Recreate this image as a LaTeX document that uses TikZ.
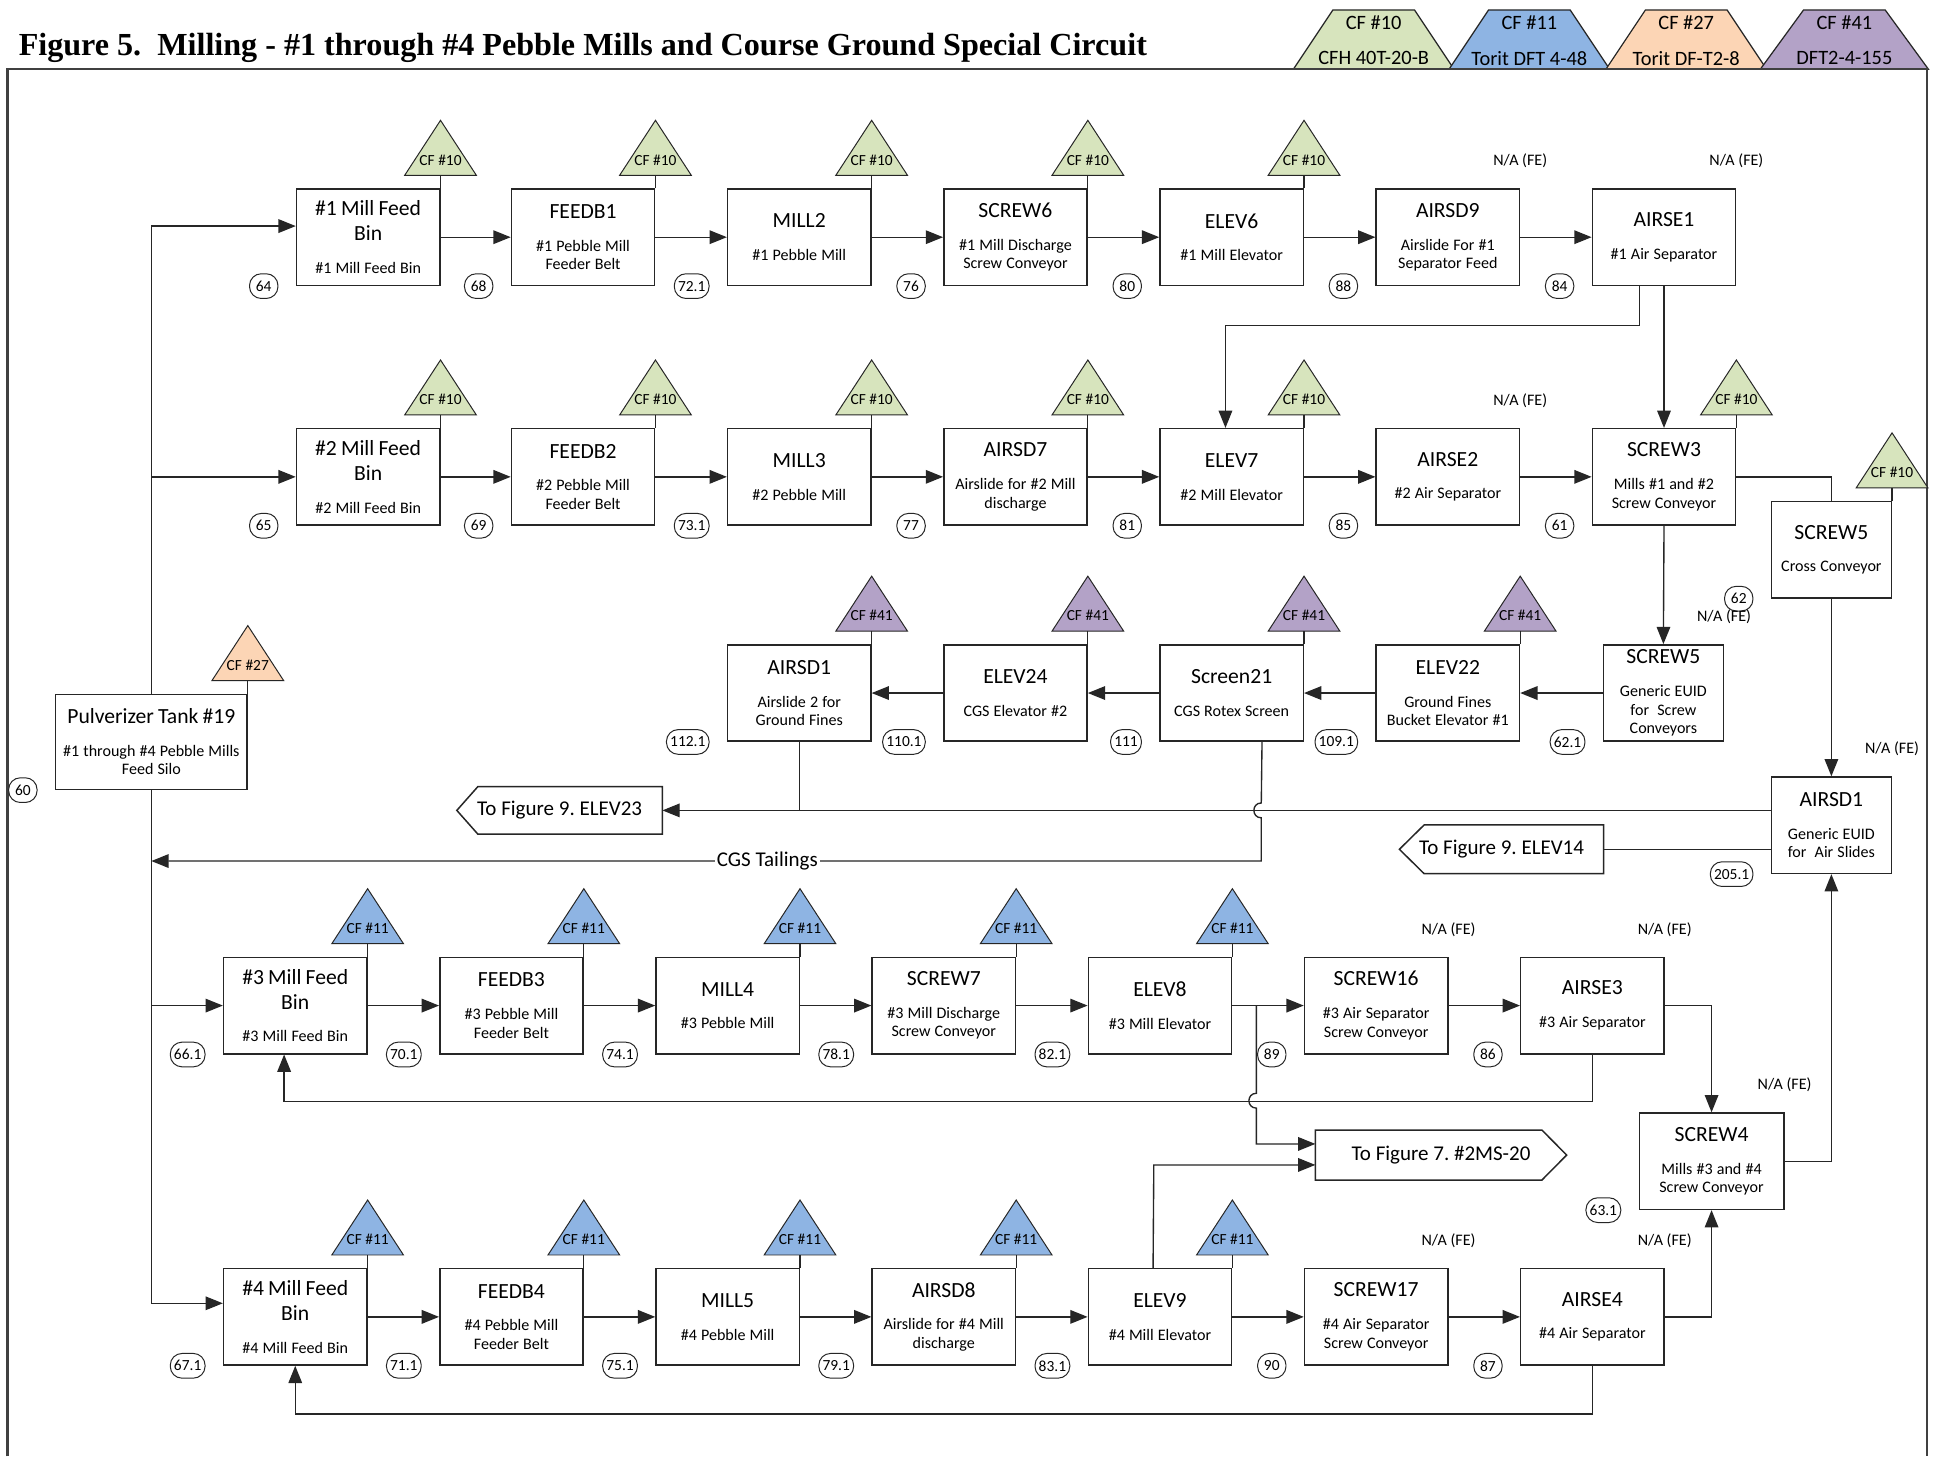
\documentclass[tikz,border=0pt]{standalone}
\usepackage{fontspec}
\setmainfont{Carlito}
\newfontfamily\serifbf{Liberation Serif}
\usetikzlibrary{arrows.meta,calc}
\frenchspacing
\definecolor{lc}{HTML}{262626}
\definecolor{cfg}{HTML}{D7E4BD}
\definecolor{cfb}{HTML}{8EB4E3}
\definecolor{cfp}{HTML}{FCD5B5}
\definecolor{cfv}{HTML}{B3A2C7}
\newcommand\titf{\fontsize{17.5}{20}\selectfont}
\newcommand\subf{\fontsize{13}{15}\selectfont}
\newcommand\bx[2]{{\titf #1\par}\vskip 11.5pt{\subf #2\par}}
\newcommand\eqb[7][]{%
  \node[eqbox,#1] (#2) at (#3,#4) {\bx{#5}{#6}};
  \node[num,anchor=east] (#2n) at ($(#2.south west)+(-14,0)$) {#7};}
\newcommand\cftri[3]{%
  \filldraw[tri,fill=#2] ($(#1.north east)+(-29,-10.5)$) -- ($(#1.north east)+(29,-10.5)$) -- ($(#1.north east)+(0,-55)$) -- cycle;
  \draw[stem] (#1.north east) -- ++(0,-10.5);
  \node[trilab] (#1t) at ($(#1.north east)+(0,-23)$) {CF \##3};}
\newcommand\nafe[1]{\node[nalab] (#1na) at ($(#1.north east)+(0,-22)$) {N/A (FE)};}
\begin{document}
\begin{tikzpicture}[x=1pt,y=-1pt,
  eqbox/.style={draw=lc, line width=1.2pt, fill=white, minimum width=116pt, minimum height=78pt, text width=116pt, inner sep=0pt, align=center},
  nbox/.style={minimum width=97pt, text width=97pt},
  num/.style={draw=lc, line width=0.8pt, fill=white, rounded corners=9.5pt, minimum height=20pt, minimum width=23pt, inner xsep=3pt, inner ysep=1pt, font=\fontsize{12.5}{14}\selectfont},
  tri/.style={draw=lc, line width=0.8pt},
  stem/.style={draw=lc, line width=1pt},
  trilab/.style={inner sep=0pt, font=\fontsize{12.5}{14}\selectfont},
  nalab/.style={inner sep=0pt, font=\fontsize{13}{15}\selectfont},
  arr/.style={draw=lc, line width=1.1pt, -{Triangle[length=14pt,width=11pt]}},
  ln/.style={draw=lc, line width=1.1pt},
  sig/.style={draw=lc, line width=1.2pt},
  figtxt/.style={inner sep=0pt, font=\fontsize{17}{20}\selectfont},
  legf/.style={inner sep=0pt, font=\fontsize{16.5}{18}\selectfont},
  leg/.style={draw=lc, line width=1pt},
  frame/.style={draw=black!75, line width=2pt}]
\useasboundingbox (0,0) rectangle (1568,1179);
\fill[white] (0,0) rectangle (1568,1179);

% title
\node[anchor=base west, inner sep=0pt, font=\serifbf\bfseries\fontsize{26}{30}\selectfont] (title) at (15,45) {Figure 5.\ \ Milling - \#1 through \#4 Pebble Mills and Course Ground Special Circuit};

% legend
\foreach \cx/\col/\a/\b/\w [count=\i] in {1112/cfg/10/CFH 40T-20-B/65, 1238/cfb/11/Torit DFT 4-48/65, 1365/cfp/27/Torit DF-T2-8/65, 1493/cfv/41/DFT2-4-155/68} {
  \filldraw[leg, fill=\col] (\cx-\w,56) -- (\cx-33,8) -- (\cx+33,8) -- (\cx+\w,56) -- cycle;
  \node[legf] (lt\i) at (\cx,18) {CF \#\a};
  \node[legf] (lb\i) at (\cx,47) {\b};
}
\draw[frame] (6,1179) -- (6,56) -- (1560,56) -- (1560,1179);

% row 1
\eqb{b11}{298}{192}{\#1 Mill Feed\\Bin}{\#1 Mill Feed Bin}{64}
\eqb{b12}{472}{192}{FEEDB1}{\#1 Pebble Mill\\Feeder Belt}{68}
\eqb{b13}{647}{192}{MILL2}{\#1 Pebble Mill}{72.1}
\eqb{b14}{822}{192}{SCREW6}{\#1 Mill Discharge\\Screw Conveyor}{76}
\eqb{b15}{997}{192}{ELEV6}{\#1 Mill Elevator}{80}
\eqb{b16}{1172}{192}{AIRSD9}{Airslide For \#1\\Separator Feed}{88}
\eqb{b17}{1347}{192}{AIRSE1}{\#1 Air Separator}{84}
% row 2
\eqb{b21}{298}{386}{\#2 Mill Feed\\Bin}{\#2 Mill Feed Bin}{65}
\eqb{b22}{472}{386}{FEEDB2}{\#2 Pebble Mill\\Feeder Belt}{69}
\eqb{b23}{647}{386}{MILL3}{\#2 Pebble Mill}{73.1}
\eqb{b24}{822}{386}{AIRSD7}{Airslide for \#2 Mill\\discharge}{77}
\eqb{b25}{997}{386}{ELEV7}{\#2 Mill Elevator}{81}
\eqb{b26}{1172}{386}{AIRSE2}{\#2 Air Separator}{85}
\eqb{b27}{1347}{386}{SCREW3}{Mills \#1 and \#2\\Screw Conveyor}{61}
% row 3
\eqb{r31}{647}{561}{AIRSD1}{Airslide 2 for\\Ground Fines}{112.1}
\eqb{r32}{822}{561}{ELEV24}{CGS Elevator \#2}{110.1}
\eqb{r33}{997}{561}{Screen21}{CGS Rotex Screen}{111}
\eqb{r34}{1172}{561}{ELEV22}{Ground Fines\\Bucket Elevator \#1}{109.1}
\eqb[nbox]{s5g}{1346.5}{561}{SCREW5}{Generic EUID\\for\ \ Screw\\Conveyors}{62.1}
\eqb[nbox]{s5c}{1482.5}{445}{SCREW5}{Cross Conveyor}{62}
\eqb[nbox]{air}{1482.5}{668}{AIRSD1}{Generic EUID\\for\ \ Air Slides}{205.1}
\eqb[minimum width=155pt,text width=155pt,minimum height=77pt]{pulv}{122.5}{600.5}{Pulverizer Tank \#19}{\#1 through \#4 Pebble Mills\\Feed Silo}{60}
% row 4
\eqb{b41}{239}{814}{\#3 Mill Feed\\Bin}{\#3 Mill Feed Bin}{66.1}
\eqb{b42}{414}{814}{FEEDB3}{\#3 Pebble Mill\\Feeder Belt}{70.1}
\eqb{b43}{589}{814}{MILL4}{\#3 Pebble Mill}{74.1}
\eqb{b44}{764}{814}{SCREW7}{\#3 Mill Discharge\\Screw Conveyor}{78.1}
\eqb{b45}{939}{814}{ELEV8}{\#3 Mill Elevator}{82.1}
\eqb{b46}{1114}{814}{SCREW16}{\#3 Air Separator\\Screw Conveyor}{89}
\eqb{b47}{1289}{814}{AIRSE3}{\#3 Air Separator}{86}
% row 5
\eqb{b51}{239}{1066}{\#4 Mill Feed\\Bin}{\#4 Mill Feed Bin}{67.1}
\eqb{b52}{414}{1066}{FEEDB4}{\#4 Pebble Mill\\Feeder Belt}{71.1}
\eqb{b53}{589}{1066}{MILL5}{\#4 Pebble Mill}{75.1}
\eqb{b54}{764}{1066}{AIRSD8}{Airslide for \#4 Mill\\discharge}{79.1}
\eqb{b55}{939}{1066}{ELEV9}{\#4 Mill Elevator}{83.1}
\eqb{b56}{1114}{1066}{SCREW17}{\#4 Air Separator\\Screw Conveyor}{90}
\eqb{b57}{1289}{1066}{AIRSE4}{\#4 Air Separator}{87}
\eqb[minimum width=117pt,text width=117pt]{screw4}{1385.5}{940}{SCREW4}{Mills \#3 and \#4\\Screw Conveyor}{63.1}

% triangles
\foreach \n in {b11,b12,b13,b14,b15,b21,b22,b23,b24,b25,b27,s5c} {\cftri{\n}{cfg}{10}}
\foreach \n in {b41,b42,b43,b44,b45,b51,b52,b53,b54,b55} {\cftri{\n}{cfb}{11}}
\foreach \n in {r31,r32,r33,r34} {\cftri{\n}{cfv}{41}}
\cftri{pulv}{cfp}{27}
\foreach \n in {b16,b17,b26,s5g,air,screw4,b46,b47,b56,b57} {\nafe{\n}}

% off-page connectors
\node[figtxt, minimum width=166pt, minimum height=38pt] (fig9a) at (453,656) {To Figure 9. ELEV23};
\draw[sig] (fig9a.north east) -- (fig9a.south east) -- ($(fig9a.south west)+(17,0)$) -- (fig9a.west) -- ($(fig9a.north west)+(17,0)$) -- cycle;
\node[figtxt, minimum width=165pt, minimum height=39pt] (fig9b) at (1215.5,687.5) {To Figure 9. ELEV14};
\draw[sig] (fig9b.north east) -- (fig9b.south east) -- ($(fig9b.south west)+(20,0)$) -- (fig9b.west) -- ($(fig9b.north west)+(20,0)$) -- cycle;
\node[figtxt, minimum width=203pt, minimum height=40pt] (fig7) at (1166.5,935) {To Figure 7. \#2MS-20};
\draw[sig] (fig7.north west) -- ($(fig7.north east)+(-20,0)$) -- (fig7.east) -- ($(fig7.south east)+(-20,0)$) -- (fig7.south west) -- cycle;

% row arrows (left to right)
\foreach \a/\b in {b11/b12,b12/b13,b13/b14,b14/b15,b15/b16,b16/b17,
                   b21/b22,b22/b23,b23/b24,b24/b25,b25/b26,b26/b27,
                   b41/b42,b42/b43,b43/b44,b44/b45,b45/b46,b46/b47,
                   b51/b52,b52/b53,b53/b54,b54/b55,b55/b56,b56/b57} {\draw[arr] (\a.east) -- (\b.west);}
% row 3 arrows (right to left)
\foreach \a/\b in {s5g/r34,r34/r33,r33/r32,r32/r31} {\draw[arr] (\a.west) -- (\b.east);}

% feed lines from pulverizer
\coordinate (j1) at (123,183);
\coordinate (j5) at (123,1055);
\draw[arr] (pulv.north) |- (j1 -| b11.west);
\draw[arr] (pulv.north |- b21.west) -- (b21.west);
\draw[arr] (pulv.south) |- (j5 -| b51.west);
\draw[arr] (pulv.south |- b41.west) -- (b41.west);

% AIRSE1
\draw[arr] (b17.south) -- (b27.north);
\draw[arr] ($(b17.south)+(-20,0)$) -- ++(0,32) -| ($(b25.north)+(-5,0)$);
% SCREW3
\draw[ln] (b27.east) -| (s5c.north);
\draw[arr] (b27.south) -- (s5g.north);
\draw[arr] (s5c.south) -- (air.north);
\draw[arr] (screw4.east) -| (air.south);
% AIRSD1 right outputs
\draw[arr] ($(air.west)+(0,-12)$) -- (fig9a.east);
\draw[ln] (fig9b.east) -- (fig9b.east -| air.west);
\draw[ln] (r31.south) -- (r31.south |- fig9a.east);
% CGS tailings
\coordinate (s21b) at ($(r33.south east)+(-34,0)$);
\coordinate (tl) at (1021,697);
\draw[arr] (s21b) -- (1021,650) .. controls (1013,650) and (1013,662) .. (1021,662) -- (tl)
  -- node[pos=0.445, fill=white, inner sep=1.5pt, font=\fontsize{17}{20}\selectfont] (cgs) {CGS Tailings} (tl -| pulv.south);

% mills 3/4 outputs
\draw[arr] (b47.east) -| (screw4.north);
\draw[arr] (b57.east) -| (screw4.south);
\draw[arr] (b47.south) -- ++(0,38) -| ($(b41.south)+(-9,0)$);
\draw[arr] (b57.south) -- ++(0,39) -| (b51.south);
\coordinate (br1) at (1017,814);
\coordinate (br2) at (1017,926);
\draw[arr] (br1) -- (1017,885) .. controls (1009,885) and (1009,897) .. (1017,897) -- (br2) -- (br2 -| fig7.west);
\coordinate (e9a) at ($(b55.north west)+(53,0)$);
\coordinate (e9b) at (934,943);
\draw[arr] (e9a) -- (e9b) -- (e9b -| fig7.west);
\end{tikzpicture}
\end{document}
